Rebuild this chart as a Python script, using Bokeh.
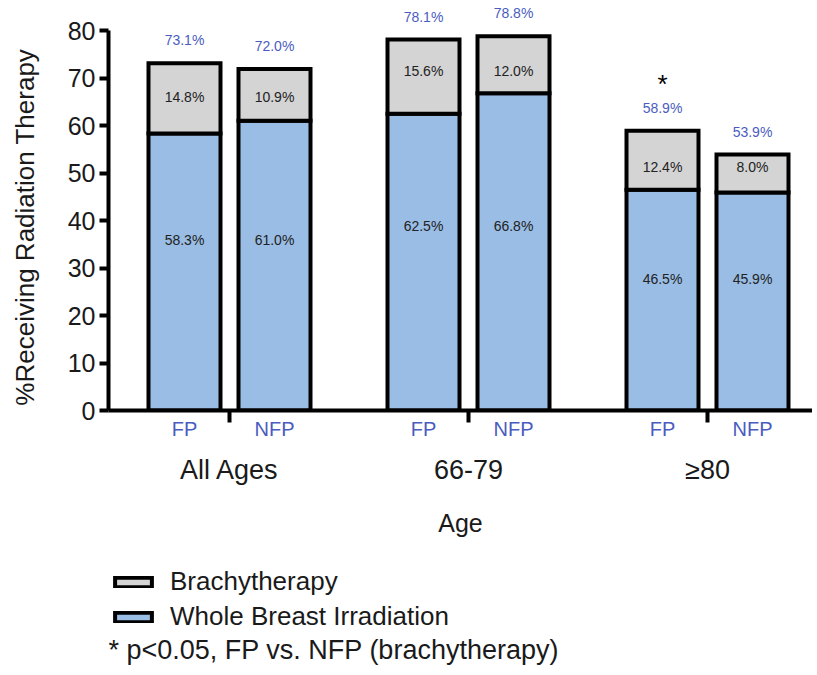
from bokeh.plotting import figure
from bokeh.layouts import column
from bokeh.models import (FixedTicker, LinearAxis, Range1d, Legend, LegendItem,
                          ColumnDataSource, Label)
from bokeh.core.properties import value
from bokeh.embed import file_html
from bokeh.resources import INLINE

# ---------------- data ----------------
groups = ["All Ages", "66-79", "≥80"]
series = ["FP", "NFP"]
wbi_fp = [58.3, 62.5, 46.5]
wbi_nfp = [61.0, 66.8, 45.9]
brachy_fp = [14.8, 15.6, 12.4]
brachy_nfp = [10.9, 12.0, 8.0]
total_fp = [73.1, 78.1, 58.9]
total_nfp = [72.0, 78.8, 53.9]
sig_fp = [False, False, True]
y_ticks = [0, 10, 20, 30, 40, 50, 60, 70, 80]
legend_labels = ["Brachytherapy", "Whole Breast Irradiation"]
footnote = "* p<0.05, FP vs. NFP (brachytherapy)"

# ---------------- style / layout ----------------
FONT = "Liberation Sans"
BLUE_FILL = "#99bde4"
GRAY_FILL = "#d4d4d4"
BLUE_TEXT = "#4a5cbf"
INK = "#1a1a1a"
GROUP_STEP = 239
PAIR_OFFSET = 45
BAR_W = 72
W = 812
LEFT = 108
TOP_H = 530
BOT_H = 130
NAN = float("nan")

group_x = [i * GROUP_STEP for i in range(len(groups))]
xs, wbi, top, tot_lbl, br_lbl, wbi_lbl, ty, by, wy, ser = ([] for _ in range(10))
star_x, star_y = [], []
for i, g in enumerate(groups):
    w_pair = [wbi_fp[i], wbi_nfp[i]]
    b_pair = [brachy_fp[i], brachy_nfp[i]]
    t_pair = [total_fp[i], total_nfp[i]]
    br_mid = sum(w + b / 2 for w, b in zip(w_pair, b_pair)) / 2
    wbi_mid = 0.6 * sum(w_pair) / 2
    for j, s in enumerate(series):
        x = group_x[i] + (-PAIR_OFFSET if j == 0 else PAIR_OFFSET)
        xs.append(x)
        ser.append(s)
        wbi.append(w_pair[j])
        top.append(w_pair[j] + b_pair[j])
        tot_lbl.append(f"{t_pair[j]:.1f}%")
        br_lbl.append(f"{b_pair[j]:.1f}%")
        wbi_lbl.append(f"{w_pair[j]:.1f}%")
        ty.append(t_pair[j] + 4.8)
        by.append(br_mid)
        wy.append(wbi_mid)
        if j == 0 and sig_fp[i]:
            star_x.append(x)
            star_y.append(t_pair[j] + 9.8)

src = ColumnDataSource(dict(x=xs, wbi=wbi, top=top, tot_lbl=tot_lbl, br_lbl=br_lbl,
                            wbi_lbl=wbi_lbl, ty=ty, by=by, wy=wy))

p = figure(width=W, height=TOP_H, frame_width=W - LEFT, frame_height=410,
           x_range=Range1d(-121, W - LEFT - 121), y_range=Range1d(0, 410 / 4.75),
           output_backend="svg", toolbar_location=None,
           min_border_left=LEFT, min_border_right=0, min_border_top=0, min_border_bottom=0)
p.outline_line_color = None
p.grid.visible = False

bar_style = dict(line_color="black", line_width=4, line_join="miter")
r_wbi = p.vbar(x="x", width=BAR_W, bottom=0, top="wbi", source=src,
               fill_color=BLUE_FILL, **bar_style)
r_br = p.vbar(x="x", width=BAR_W, bottom="wbi", top="top", source=src,
              fill_color=GRAY_FILL, **bar_style)

common = dict(source=src, text_font=value(FONT), text_font_size="14px",
              text_align="center", text_baseline="middle")
p.text(x="x", y="ty", text="tot_lbl", text_color=BLUE_TEXT, **common)
p.text(x="x", y="by", text="br_lbl", text_color="#222222", **common)
p.text(x="x", y="wy", text="wbi_lbl", text_color="#222222", **common)
p.text(x=star_x, y=star_y, text=["*"] * len(star_x), text_font=value(FONT),
       text_font_size="26px", text_align="center", text_baseline="middle",
       text_color="black")

# y axis
yax = p.yaxis[0]
yax.ticker = FixedTicker(ticks=y_ticks)
yax.bounds = (0, 80)
yax.axis_line_width = 4
yax.major_tick_line_width = 4
yax.major_tick_out = 9
yax.major_tick_in = 0
yax.minor_tick_line_color = None
yax.major_label_text_font = FONT
yax.major_label_text_font_size = "25px"
yax.major_label_text_color = INK
yax.major_label_standoff = 4
yax.axis_label = "%Receiving Radiation Therapy" + "\u00a0" * 6
yax.axis_label_text_font = FONT
yax.axis_label_text_font_size = "26px"
yax.axis_label_text_font_style = "normal"
yax.axis_label_text_color = INK
yax.axis_label_standoff = 25

# x axis (FP / NFP with separators)
xax = p.xaxis[0]
xax.ticker = FixedTicker(ticks=xs, minor_ticks=group_x)
xax.major_label_overrides = {x: s for x, s in zip(xs, ser)}
xax.axis_line_width = 4
xax.major_tick_line_color = None
xax.major_tick_out = 0
xax.major_tick_in = 0
xax.minor_tick_out = 12
xax.minor_tick_in = 0
xax.minor_tick_line_width = 4
xax.minor_tick_line_color = "black"
xax.major_label_text_font = FONT
xax.major_label_text_font_size = "20px"
xax.major_label_text_color = BLUE_TEXT
xax.major_label_standoff = -5

# group axis
gax = LinearAxis(ticker=FixedTicker(ticks=group_x),
                 major_label_overrides={x: g for x, g in zip(group_x, groups)},
                 axis_line_color=None, major_tick_line_color=None,
                 minor_tick_line_color=None, major_tick_out=0, major_tick_in=0,
                 major_label_standoff=12, major_label_text_font=FONT,
                 major_label_text_font_size="27px", major_label_text_color=INK,
                 axis_label="Age", axis_label_text_font=FONT,
                 axis_label_text_font_size="25px", axis_label_text_font_style="normal",
                 axis_label_text_color=INK, axis_label_standoff=21)
p.add_layout(gax, "below")

# ---------------- legend + footnote figure (x/y in page pixels) ----------------
q = figure(width=W, height=BOT_H, x_range=Range1d(LEFT, W), y_range=Range1d(BOT_H, 0),
           output_backend="svg", toolbar_location=None,
           min_border_left=0, min_border_right=0, min_border_top=0, min_border_bottom=0)
q.axis.visible = False
q.grid.visible = False
q.outline_line_color = None
l_br = q.vbar(x=[NAN], width=1, bottom=[NAN], top=[NAN], fill_color=GRAY_FILL, **bar_style)
l_wbi = q.vbar(x=[NAN], width=1, bottom=[NAN], top=[NAN], fill_color=BLUE_FILL, **bar_style)
legend = Legend(items=[LegendItem(label=legend_labels[0], renderers=[l_br]),
                       LegendItem(label=legend_labels[1], renderers=[l_wbi])],
                location=(2, BOT_H - 93), orientation="vertical",
                glyph_width=46, glyph_height=12, label_standoff=14,
                label_text_font=FONT, label_text_font_size="26px",
                label_text_color=INK, spacing=4, padding=0, margin=0,
                border_line_color=None, background_fill_alpha=0)
q.add_layout(legend, "center")
note = Label(x=LEFT, y=110, text=footnote, text_font=FONT,
             text_font_size="27px", text_baseline="middle", text_color=INK)
q.add_layout(note)

open("out.html", "w").write(file_html(column(p, q, spacing=0), INLINE))
